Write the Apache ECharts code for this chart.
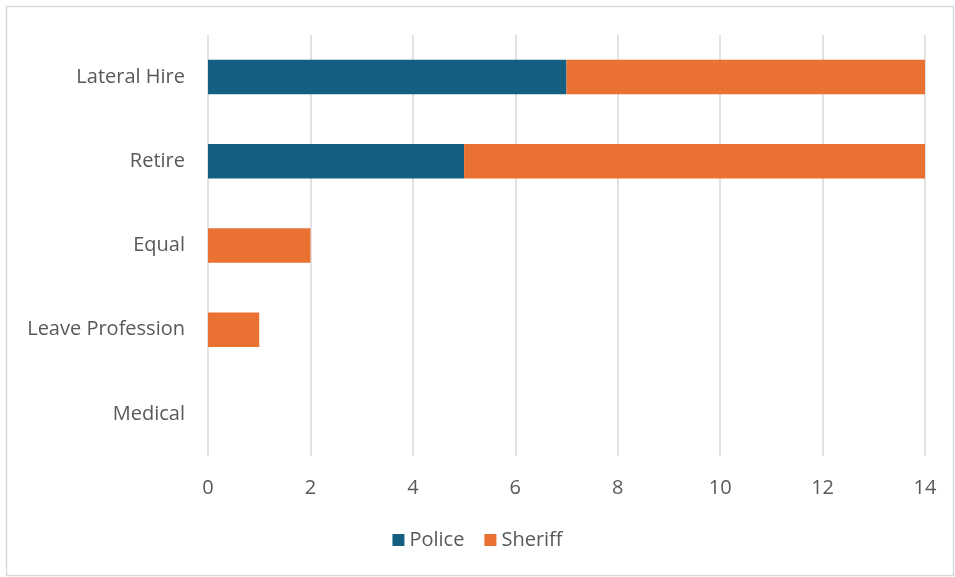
<!DOCTYPE html>
<html>
<head>
<meta charset="utf-8">
<script src="https://cdn.jsdelivr.net/npm/echarts@6/dist/echarts.min.js"></script>
<style>html,body{margin:0;padding:0;background:#fff}#c{width:955px;height:577px}</style>
</head>
<body>
<div id="c"></div>
<script>
const categories = ["Lateral Hire", "Retire", "Equal", "Leave Profession", "Medical"];
const police = [7, 5, 0, 0, 0];
const sheriff = [7, 9, 2, 1, 0];
const xTicks = [0, 2, 4, 6, 8, 10, 12, 14];

const FONT = "Open Sans";
const chart = echarts.init(document.getElementById('c'), null, {renderer: 'canvas'});
chart.setOption({
  animation: false,
  backgroundColor: '#fff',
  textStyle: {fontFamily: FONT},
  graphic: [{
    type: 'rect', left: 4, top: 4, silent: true,
    shape: {width: 947, height: 569},
    style: {fill: 'none', stroke: '#d9d9d9', lineWidth: 1.5}
  }],
  grid: {left: 208, right: 30, top: 35, bottom: 121, containLabel: false},
  legend: {
    bottom: 22, left: 'center', itemWidth: 12, itemHeight: 12, itemGap: 20,
    icon: 'rect',
    textStyle: {color: '#595959', fontSize: 20, fontFamily: FONT},
    data: ['Police', 'Sheriff']
  },
  xAxis: {
    type: 'value', min: xTicks[0], max: xTicks[xTicks.length - 1], interval: 2,
    axisLine: {show: false}, axisTick: {show: false},
    splitLine: {show: true, lineStyle: {color: '#d9d9d9', width: 1.5}},
    axisLabel: {color: '#595959', fontSize: 20, margin: 22, fontFamily: FONT}
  },
  yAxis: {
    type: 'category', data: categories, inverse: true,
    axisLine: {show: false}, axisTick: {show: false},
    axisLabel: {color: '#595959', fontSize: 20, margin: 23, fontFamily: FONT}
  },
  series: [
    {name: 'Police', type: 'bar', stack: 'a', data: police, barWidth: '41%',
     itemStyle: {color: '#156082'}},
    {name: 'Sheriff', type: 'bar', stack: 'a', data: sheriff, barWidth: '41%',
     itemStyle: {color: '#E97132'}}
  ]
});
</script>
</body>
</html>
